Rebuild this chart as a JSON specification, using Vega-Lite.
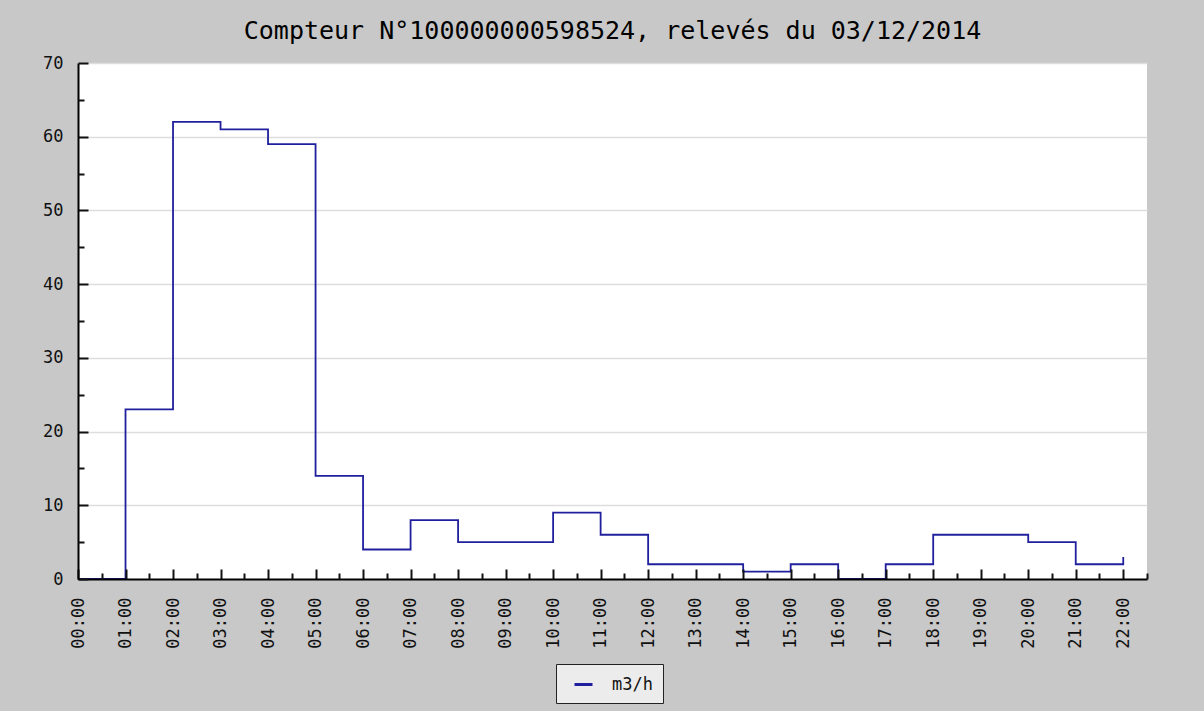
{
  "$schema": "https://vega.github.io/schema/vega-lite/v6.json",
  "width": 1069,
  "height": 516,
  "autosize": "none",
  "padding": {"left": 78, "top": 63, "right": 57, "bottom": 132},
  "background": "#c8c8c8",
  "config": {
    "view": {"fill": "white", "stroke": null},
    "font": "DejaVu Sans Mono",
    "axis": {
      "labelFont": "DejaVu Sans Mono",
      "labelFontSize": 17,
      "labelColor": "#111111",
      "domainColor": "#000000",
      "domainWidth": 2,
      "tickColor": "#111111",
      "tickWidth": 2,
      "title": null
    }
  },
  "title": {
    "text": "Compteur N°100000000598524, relevés du 03/12/2014",
    "font": "DejaVu Sans Mono",
    "fontSize": 25,
    "fontWeight": "normal",
    "color": "#000000",
    "anchor": "middle",
    "frame": "group",
    "offset": 10
  },
  "data": {
    "values": [
      {"heure": 0, "debit": 0},
      {"heure": 1, "debit": 23},
      {"heure": 2, "debit": 62},
      {"heure": 3, "debit": 61},
      {"heure": 4, "debit": 59},
      {"heure": 5, "debit": 14},
      {"heure": 6, "debit": 4},
      {"heure": 7, "debit": 8},
      {"heure": 8, "debit": 5},
      {"heure": 9, "debit": 5},
      {"heure": 10, "debit": 9},
      {"heure": 11, "debit": 6},
      {"heure": 12, "debit": 2},
      {"heure": 13, "debit": 2},
      {"heure": 14, "debit": 1},
      {"heure": 15, "debit": 2},
      {"heure": 16, "debit": 0},
      {"heure": 17, "debit": 2},
      {"heure": 18, "debit": 6},
      {"heure": 19, "debit": 6},
      {"heure": 20, "debit": 5},
      {"heure": 21, "debit": 2},
      {"heure": 22, "debit": 3}
    ]
  },
  "layer": [
    {
      "mark": {"type": "point", "opacity": 0},
      "encoding": {
        "x": {"field": "heure", "type": "quantitative", "scale": {"domain": [0, 22.5], "nice": false, "zero": false}, "axis": null},
        "y": {
          "field": "debit", "type": "quantitative",
          "scale": {"domain": [0, 70], "nice": false},
          "axis": {"orient": "left", "values": [10, 20, 30, 40, 50, 60, 70], "grid": true, "gridColor": "#dedede", "gridWidth": 1.5, "domain": false, "ticks": false, "labels": false, "zindex": 0}
        }
      }
    },
    {
      "mark": {"type": "line", "interpolate": "step-after", "strokeWidth": 1.8},
      "encoding": {
        "x": {
          "field": "heure", "type": "quantitative",
          "axis": {
            "orient": "bottom",
            "values": [0, 1, 2, 3, 4, 5, 6, 7, 8, 9, 10, 11, 12, 13, 14, 15, 16, 17, 18, 19, 20, 21, 22],
            "labelExpr": "pad(datum.value, 2, '0', 'left') + ':00'",
            "labelAngle": -90,
            "tickSize": -10,
            "labelPadding": 28,
            "grid": false,
            "zindex": 1
          }
        },
        "y": {
          "field": "debit", "type": "quantitative",
          "axis": {"orient": "left", "values": [0, 10, 20, 30, 40, 50, 60, 70], "tickSize": -10, "labelPadding": 25, "grid": false, "zindex": 1}
        },
        "color": {
          "datum": "m3/h", "type": "nominal",
          "scale": {"range": ["#20209e"]},
          "legend": {
            "orient": "none", "legendX": 478, "legendY": 601,
            "title": null, "padding": 10,
            "fillColor": "#ececec", "strokeColor": "#222222",
            "labelFont": "DejaVu Sans Mono", "labelFontSize": 17, "labelColor": "#111111",
            "symbolType": "stroke", "symbolSize": 324, "symbolStrokeWidth": 3,
            "labelOffset": 18, "symbolOffset": 7
          }
        }
      }
    },
    {
      "mark": {"type": "point", "opacity": 0},
      "encoding": {
        "x": {
          "field": "heure", "type": "quantitative",
          "axis": {"orient": "bottom", "values": [0.5, 1.5, 2.5, 3.5, 4.5, 5.5, 6.5, 7.5, 8.5, 9.5, 10.5, 11.5, 12.5, 13.5, 14.5, 15.5, 16.5, 17.5, 18.5, 19.5, 20.5, 21.5, 22.5], "tickSize": -6, "labels": false, "domain": false, "grid": false, "zindex": 1}
        },
        "y": {
          "field": "debit", "type": "quantitative",
          "axis": {"orient": "left", "values": [5, 15, 25, 35, 45, 55, 65], "tickSize": -6, "labels": false, "domain": false, "grid": false, "zindex": 1}
        }
      }
    }
  ],
  "resolve": {"axis": {"x": "independent", "y": "independent"}}
}
